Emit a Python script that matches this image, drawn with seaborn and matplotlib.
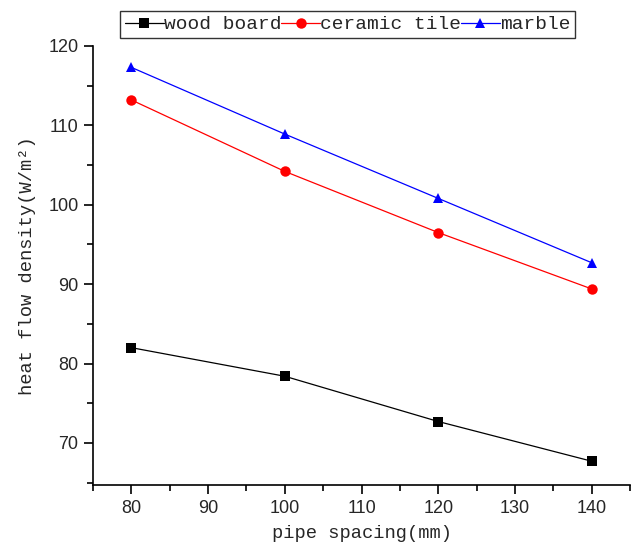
import matplotlib
matplotlib.use("Agg")
import matplotlib.pyplot as plt
import seaborn as sns
import pandas as pd
from matplotlib.ticker import MultipleLocator

spacing = [80, 100, 120, 140]
wood_board = [82.0, 78.4, 72.7, 67.7]
ceramic_tile = [113.2, 104.2, 96.5, 89.4]
marble = [117.3, 108.9, 100.8, 92.7]
series_names = ["wood board", "ceramic tile", "marble"]

df = pd.concat([
    pd.DataFrame({"x": spacing, "y": wood_board, "s": series_names[0]}),
    pd.DataFrame({"x": spacing, "y": ceramic_tile, "s": series_names[1]}),
    pd.DataFrame({"x": spacing, "y": marble, "s": series_names[2]}),
])

sns.set_style("ticks")
mono = ["Liberation Mono", "DejaVu Sans Mono"]
plt.rcParams["font.family"] = ["Liberation Sans", "DejaVu Sans"]

fig = plt.figure(figsize=(6.34, 5.47), dpi=100)
ax = fig.add_axes([0.1467, 0.1133, 0.847, 0.8027])

palette = {"wood board": "black", "ceramic tile": "red", "marble": "blue"}
markers = {"wood board": "s", "ceramic tile": "o", "marble": "^"}
sns.lineplot(data=df, x="x", y="y", hue="s", style="s", palette=palette,
             markers=markers, dashes=False, markersize=7.5, linewidth=0.9,
             markeredgewidth=0, ax=ax, legend=True)

ax.set_xlim(75, 145)
ax.set_ylim(64.7, 120)
ax.xaxis.set_major_locator(MultipleLocator(10))
ax.xaxis.set_minor_locator(MultipleLocator(5))
ax.yaxis.set_major_locator(MultipleLocator(10))
ax.yaxis.set_minor_locator(MultipleLocator(5))
ax.tick_params(which="major", direction="out", length=6.5, width=1.2, labelsize=13,
               color="black", pad=4)
ax.tick_params(which="minor", direction="out", length=4, width=1.2, color="black")
for side in ["top", "right"]:
    ax.spines[side].set_visible(False)
for side in ["left", "bottom"]:
    ax.spines[side].set_linewidth(1.2)
    ax.spines[side].set_color("black")

ax.set_xlabel("pipe spacing(mm)", family=mono, fontsize=13.5, labelpad=6)
ax.set_ylabel("heat flow density(W/m²)", family=mono, fontsize=13.5, labelpad=9)

handles, labels = ax.get_legend_handles_labels()
leg = ax.legend(handles, labels, loc="lower center", bbox_to_anchor=(0.474, 1.0),
                ncol=3, frameon=True, fancybox=False, edgecolor="black",
                prop={"family": mono, "size": 14}, handlelength=2.0,
                handletextpad=0.0, columnspacing=0.0, borderpad=0.25,
                borderaxespad=0.4)
leg.get_frame().set_linewidth(1.0)

fig.savefig("out.png", dpi=100)
